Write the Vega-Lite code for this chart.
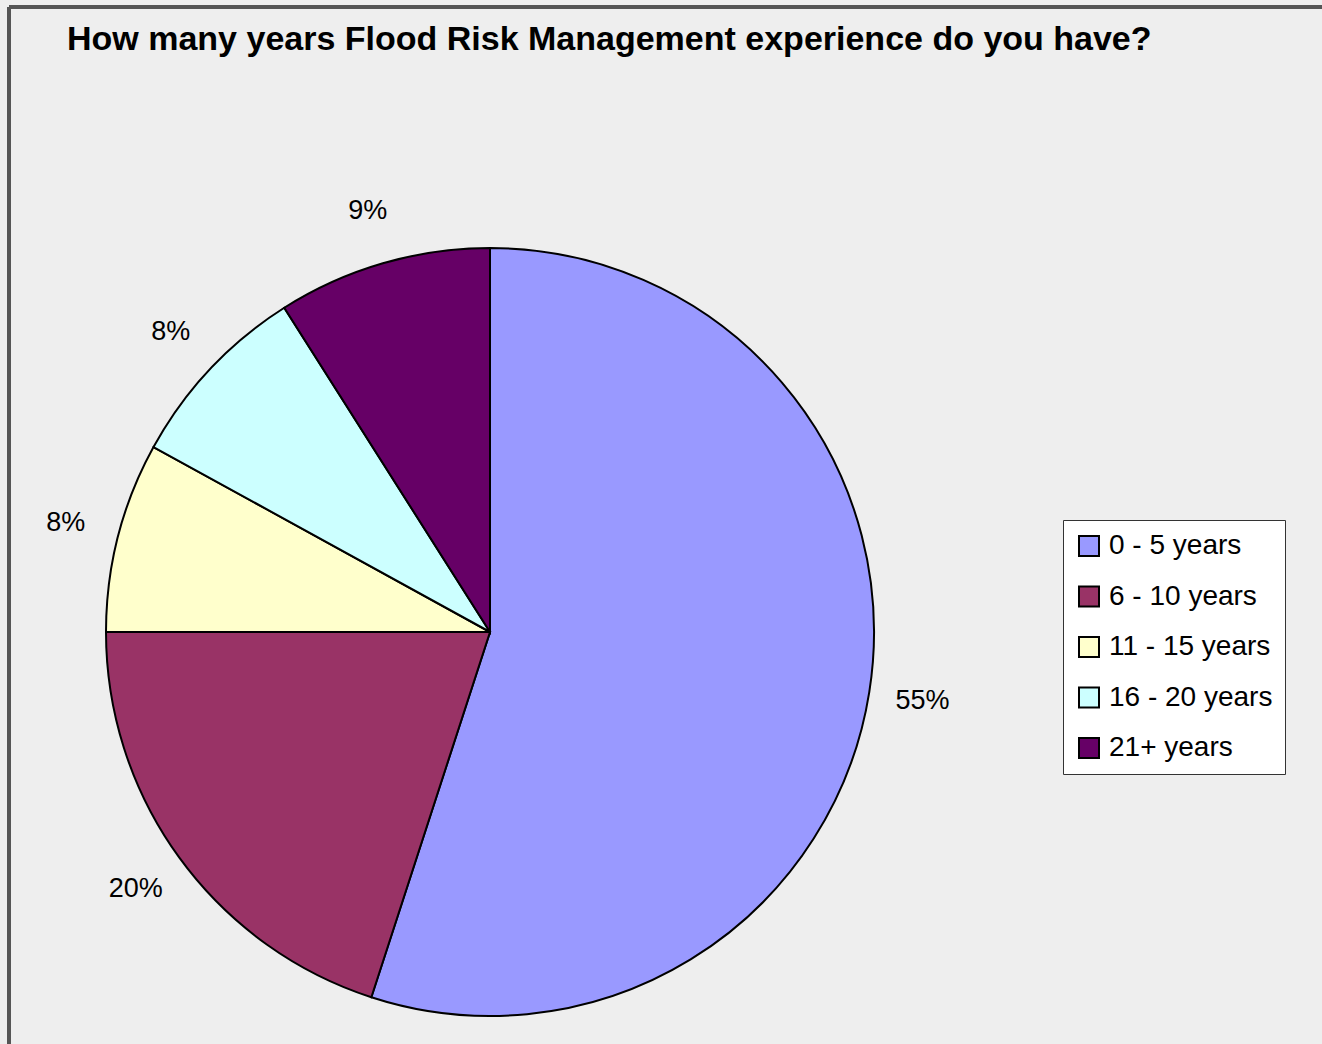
{
  "$schema": "https://vega.github.io/schema/vega-lite/v6.json",
  "width": 1313,
  "height": 1037,
  "autosize": {"type": "none"},
  "padding": {"left": 9, "top": 7, "right": 0, "bottom": 0},
  "background": "#eeeeee",
  "view": {"stroke": "#555555", "strokeWidth": 4, "fill": "#eeeeee", "strokeDash": [1313, 2350, 1037, 0]},
  "title": {
    "text": "How many years Flood Risk Management experience do you have?",
    "anchor": "start",
    "frame": "group",
    "orient": "top",
    "offset": -77,
    "dx": 58,
    "baseline": "alphabetic",
    "font": "Liberation Sans",
    "fontSize": 34,
    "fontWeight": "bold",
    "color": "#000000"
  },
  "config": {
    "font": "Liberation Sans"
  },
  "data": {
    "values": [
      {"cat": "0 - 5 years", "pct": 55, "label": "55%", "order": 1},
      {"cat": "6 - 10 years", "pct": 20, "label": "20%", "order": 2},
      {"cat": "11 - 15 years", "pct": 8, "label": "8%", "order": 3},
      {"cat": "16 - 20 years", "pct": 8, "label": "8%", "order": 4},
      {"cat": "21+ years", "pct": 9, "label": "9%", "order": 5}
    ]
  },
  "encoding": {
    "theta": {"field": "pct", "type": "quantitative", "stack": true},
    "order": {"field": "order", "type": "quantitative"}
  },
  "layer": [
    {
      "mark": {"type": "arc", "x": 481, "y": 625, "outerRadius": 384, "stroke": "#000000", "strokeWidth": 2},
      "encoding": {
        "color": {
          "field": "cat",
          "type": "nominal",
          "sort": ["0 - 5 years", "6 - 10 years", "11 - 15 years", "16 - 20 years", "21+ years"],
          "scale": {
            "domain": ["0 - 5 years", "6 - 10 years", "11 - 15 years", "16 - 20 years", "21+ years"],
            "range": ["#9999ff", "#993366", "#ffffcc", "#ccffff", "#660066"]
          },
          "legend": {
            "title": null,
            "orient": "none",
            "legendX": 1054,
            "legendY": 513,
            "fillColor": "#ffffff",
            "strokeColor": "#333333",
            "padding": 12,
            "symbolType": "square",
            "symbolSize": 400,
            "symbolStrokeColor": "#000000",
            "symbolStrokeWidth": 2,
            "symbolOpacity": 1,
            "labelFont": "Liberation Sans",
            "labelFontSize": 28,
            "labelColor": "#000000",
            "labelOffset": 6,
            "labelLimit": 300,
            "rowPadding": 22.5
          }
        }
      }
    },
    {
      "mark": {"type": "text", "x": 481, "y": 625, "radius": 438, "font": "Liberation Sans", "fontSize": 27, "color": "#000000"},
      "encoding": {
        "text": {"field": "label", "type": "nominal"}
      }
    }
  ]
}
